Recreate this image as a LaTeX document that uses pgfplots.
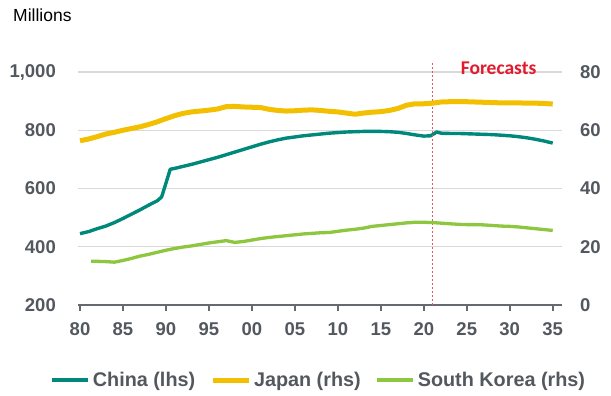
\documentclass[border=0pt]{standalone}
\usepackage{pgfplots}
\usepackage{pgfplotstable}
\pgfplotsset{compat=1.18}
\usepackage{fontspec}
\setmainfont{Liberation Sans}
\newfontfamily\calib{Carlito}

\definecolor{chinacol}{RGB}{0,137,123}
\definecolor{japancol}{RGB}{242,192,0}
\definecolor{koreacol}{RGB}{141,198,63}
\definecolor{gridcol}{RGB}{217,217,217}
\definecolor{axiscol}{RGB}{100,106,112}
\definecolor{labelcol}{RGB}{83,88,95}
\definecolor{forecol}{RGB}{226,26,46}

\newcommand{\ticklabelfont}{\fontsize{18.5bp}{21bp}\selectfont\bfseries}
\newcommand{\legendfont}{\fontsize{19.8bp}{22bp}\selectfont\bfseries}

% Working-age population, China (millions, left scale)
\pgfplotstableread{
year val
1980 445
1981 452
1982 462
1983 471
1984 483
1985 497
1986 512
1987 527
1988 543
1989 558
1989.5 571
1990.5 666
1991 669
1992 676
1993 683
1994 691
1995 699
1996 707
1997 716
1998 725
1999 734
2000 743
2001 752
2002 760
2003 767
2004 773
2005 777
2006 781
2007 784
2008 787
2009 790
2010 792
2011 794
2012 795
2013 796
2014 796
2015 796
2016 795
2017 793
2018 789
2019 784
2020 780
2020.8 781
2021.5 794
2022 790
2023 789
2024 789
2025 788
2026 787
2027 786
2028 785
2029 783
2030 781
2031 778
2032 774
2033 769
2034 763
2035 756
}\china

% Japan (millions, right scale)
\pgfplotstableread{
year val
1980 56.4
1981 57.0
1982 57.8
1983 58.7
1984 59.3
1985 60.0
1986 60.6
1987 61.2
1988 62.0
1989 62.9
1990 64.0
1991 65.0
1992 65.8
1993 66.3
1994 66.6
1995 66.9
1996 67.3
1997 68.1
1998 68.2
1999 68.0
2000 67.9
2001 67.8
2002 67.2
2003 66.8
2004 66.6
2005 66.7
2006 66.9
2007 67.0
2008 66.8
2009 66.5
2010 66.3
2011 65.9
2012 65.5
2013 65.9
2014 66.2
2015 66.4
2016 66.8
2017 67.5
2018 68.6
2019 69.1
2020 69.1
2021 69.3
2022 69.7
2023 69.8
2024 69.8
2025 69.8
2026 69.7
2027 69.6
2028 69.5
2029 69.4
2030 69.4
2031 69.4
2032 69.3
2033 69.3
2034 69.2
2035 69.0
}\japan

% South Korea (millions, right scale)
\pgfplotstableread{
year val
1981.3 15.0
1982 15.0
1983 14.9
1984 14.7
1985 15.3
1986 16.0
1987 16.8
1988 17.4
1989 18.1
1990 18.8
1991 19.4
1992 19.9
1993 20.3
1994 20.8
1995 21.3
1996 21.7
1997 22.1
1998 21.5
1999 21.8
2000 22.3
2001 22.8
2002 23.2
2003 23.5
2004 23.8
2005 24.1
2006 24.4
2007 24.6
2008 24.8
2009 24.9
2010 25.3
2011 25.7
2012 26.0
2013 26.4
2014 27.0
2015 27.3
2016 27.6
2017 27.9
2018 28.2
2019 28.4
2020 28.4
2021 28.3
2022 28.1
2023 27.9
2024 27.7
2025 27.6
2026 27.6
2027 27.5
2028 27.3
2029 27.1
2030 27.0
2031 26.8
2032 26.5
2033 26.2
2034 25.9
2035 25.6
}\korea

\pgfplotsset{
  common/.style={
    at={(78bp,91bp)}, anchor=south west,
    scale only axis, width=484bp, height=233bp,
    xmin=1979.767, xmax=2036.08,
    tick label style={font=\ticklabelfont, text=labelcol},
  },
}

\begin{document}
\begin{tikzpicture}
\path[use as bounding box] (0,0) rectangle (611bp,396bp);

% Left scale: China
\begin{axis}[common,
  ymin=200, ymax=1000,
  clip=false,
  axis x line*=bottom, axis y line*=left,
  x axis line style={-, axiscol, line width=2bp},
  y axis line style={draw=none},
  xtick={1980,1985,...,2035},
  xticklabels={80,85,90,95,00,05,10,15,20,25,30,35},
  xtick style={axiscol, line width=2bp},
  major tick length=5.5bp, tick align=outside,
  ytick={200,400,600,800,1000},
  yticklabels={200,400,600,800,{1,000}},
  ytick style={draw=none},
  ymajorgrids, grid style={gridcol, line width=1.3bp},
  xticklabel style={anchor=north, inner sep=0pt, yshift=-12bp},
  yticklabel style={anchor=east, inner sep=0pt, xshift=-16.5bp},
]
\addplot[chinacol, line width=3.4bp, line join=round] table[x=year, y=val] {\china};
% start of the forecast period
\addplot[forecol!75!white, line width=0.8bp, dash pattern=on 2bp off 2bp]
  coordinates {(2020.95,200) (2020.95,1031)};
\node[font=\calib\fontsize{19.5bp}{24bp}\selectfont\bfseries, text=forecol, inner sep=0pt]
  at (axis cs:2028.7,1013.5) {Forecasts};
\end{axis}

% Right scale: Japan and South Korea
\begin{axis}[common,
  ymin=0, ymax=80,
  axis x line=none,
  axis y line*=right,
  y axis line style={draw=none},
  ytick={0,20,40,60,80},
  yticklabels={0,20,40,60,80},
  ytick style={draw=none},
  yticklabel style={anchor=west, inner sep=0pt, xshift=18bp},
  legend columns=3,
  legend style={at={(0.4948,-0.322)}, anchor=center, draw=none, fill=none,
    inner sep=0pt, font=\legendfont, text=labelcol,
    nodes={inner sep=0pt},
    /tikz/every odd column/.append style={column sep=3bp},
    /tikz/every even column/.append style={column sep=14.8bp}},
  legend image code/.code={\draw[#1] (0bp,0bp) -- (36bp,0bp);},
]
\addlegendimage{chinacol, line width=4bp}
\addlegendentry{China (lhs)}
\addplot[japancol, line width=5bp, line join=round] table[x=year, y=val] {\japan};
\addlegendentry{Japan (rhs)}
\addplot[koreacol, line width=3.3bp, line join=round] table[x=year, y=val] {\korea};
\addlegendentry{South Korea (rhs)}
\end{axis}

\node[anchor=base west, inner sep=0pt, font=\fontsize{17.5bp}{20bp}\selectfont]
  at (13bp,374bp) {Millions};
\end{tikzpicture}
\end{document}
